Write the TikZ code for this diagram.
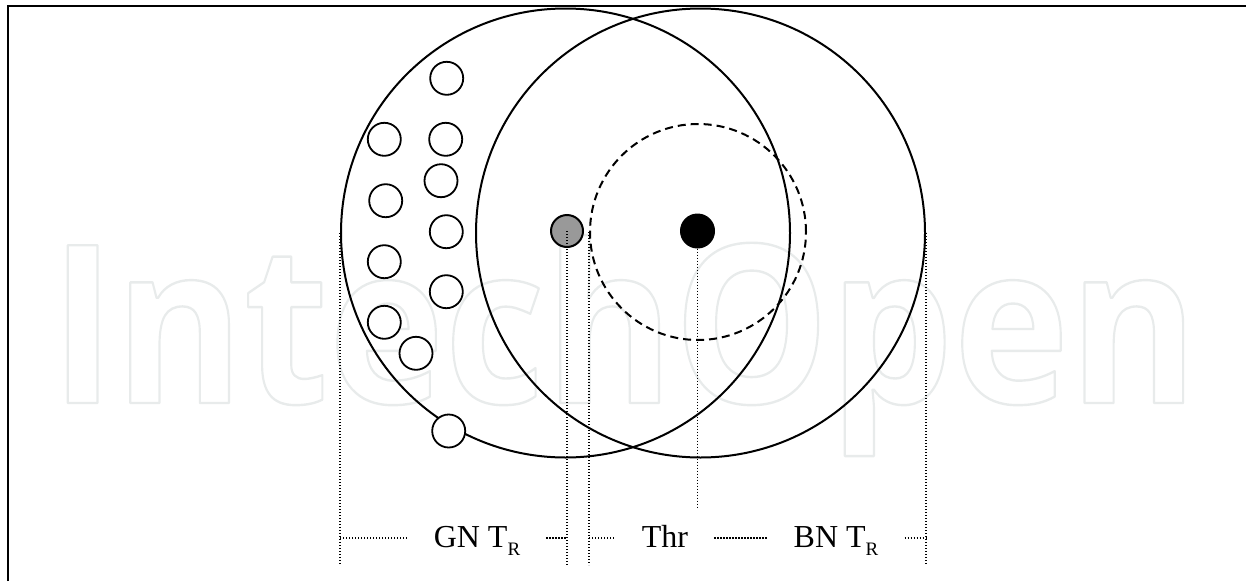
\documentclass[tikz,border=0pt]{standalone}
\usepackage{fontspec}
\setmainfont{Liberation Serif}
\newfontfamily\wmfont{Open Sans}
\definecolor{wmgray}{RGB}{232,235,235}
\definecolor{dotgray}{RGB}{153,153,153}
\newcommand\lowsub[1]{\raisebox{-8pt}{\fontsize{19}{20}\selectfont #1}}
\begin{document}
\begin{tikzpicture}[x=1pt,y=-1pt,
  bigcirc/.style={circle,draw,line width=2pt,minimum size=449pt,inner sep=0pt},
  smallcirc/.style={circle,draw,fill=white,line width=1.8pt,minimum size=33pt,inner sep=0pt},
  dotline/.style={line width=1.4pt,dash pattern=on 1.4pt off 1.6pt},
  lab/.style={font=\fontsize{32}{38}\selectfont,inner xsep=26pt,inner ysep=0pt,anchor=base}
]
\useasboundingbox (0,0) rectangle (1255,581);
% watermark (outlined text)
\node[anchor=base west,text=wmgray,inner sep=0pt,font=\wmfont\bfseries\fontsize{221}{221}\selectfont] (wm) at (50,403)
  {\scalebox{0.886}[1]{\special{pdf:literal direct 1 Tr 2.4 w 1 j}IntechOpen\special{pdf:literal direct 0 Tr}}};
% frame
\coordinate (f1) at (8,581);
\coordinate (f2) at (8,6);
\coordinate (f3) at (1246,6);
\draw[line width=2.7pt] (f1) -- (f2) -- (f3);
% big circles
\node[bigcirc] (L) at (565.5,233) {};
\node[bigcirc] (R) at (700.5,233) {};
\node[circle,draw,line width=2pt,dash pattern=on 8pt off 5pt,minimum size=216pt,inner sep=0pt] (D) at (698,232) {};
% small circles
\node[smallcirc] (s1) at (446.7,78.3) {};
\node[smallcirc] (s2) at (384.3,139.3) {};
\node[smallcirc] (s3) at (445.7,139.3) {};
\node[smallcirc] (s4) at (441,180.7) {};
\node[smallcirc] (s5) at (385.7,200.7) {};
\node[smallcirc] (s6) at (446.3,231.7) {};
\node[smallcirc] (s7) at (384.3,261.7) {};
\node[smallcirc] (s8) at (446.3,291.7) {};
\node[smallcirc] (s9) at (384.3,322.3) {};
\node[smallcirc] (s10) at (416,353.3) {};
\node[smallcirc] (s11) at (448.7,431) {};
% dots
\node[circle,draw,fill=dotgray,line width=2pt,minimum size=32pt,inner sep=0pt] (g) at (567,231) {};
\node[circle,draw,fill=black,line width=1pt,minimum size=34pt,inner sep=0pt] (k) at (697.5,231) {};
% labels
\node[lab] (gn) at (477,547) {GN T\lowsub{R}};
\node[lab] (thr) at (665,547) {Thr};
\node[lab] (bn) at (836,547) {BN T\lowsub{R}};
% dotted guides
\coordinate (bot) at (0,565);
\coordinate (kbot) at (0,507);
\coordinate (row) at (0,538);
\draw[dotline] (L.west) -- (L.west |- bot);
\draw[dotline] (g.center) -- (g.center |- bot);
\draw[dotline] (D.west) -- (D.west |- bot);
\draw[dotline] (k.south) -- (k.south |- kbot);
\draw[dotline] (R.east) -- (R.east |- bot);
\draw[dotline] (L.west |- row) -- (gn.west |- row);
\draw[dotline] (gn.east |- row) -- (g.center |- row);
\draw[dotline] (D.west |- row) -- (thr.west |- row);
\draw[dotline] (thr.east |- row) -- (bn.west |- row);
\draw[dotline] (bn.east |- row) -- (R.east |- row);
\end{tikzpicture}
\end{document}
